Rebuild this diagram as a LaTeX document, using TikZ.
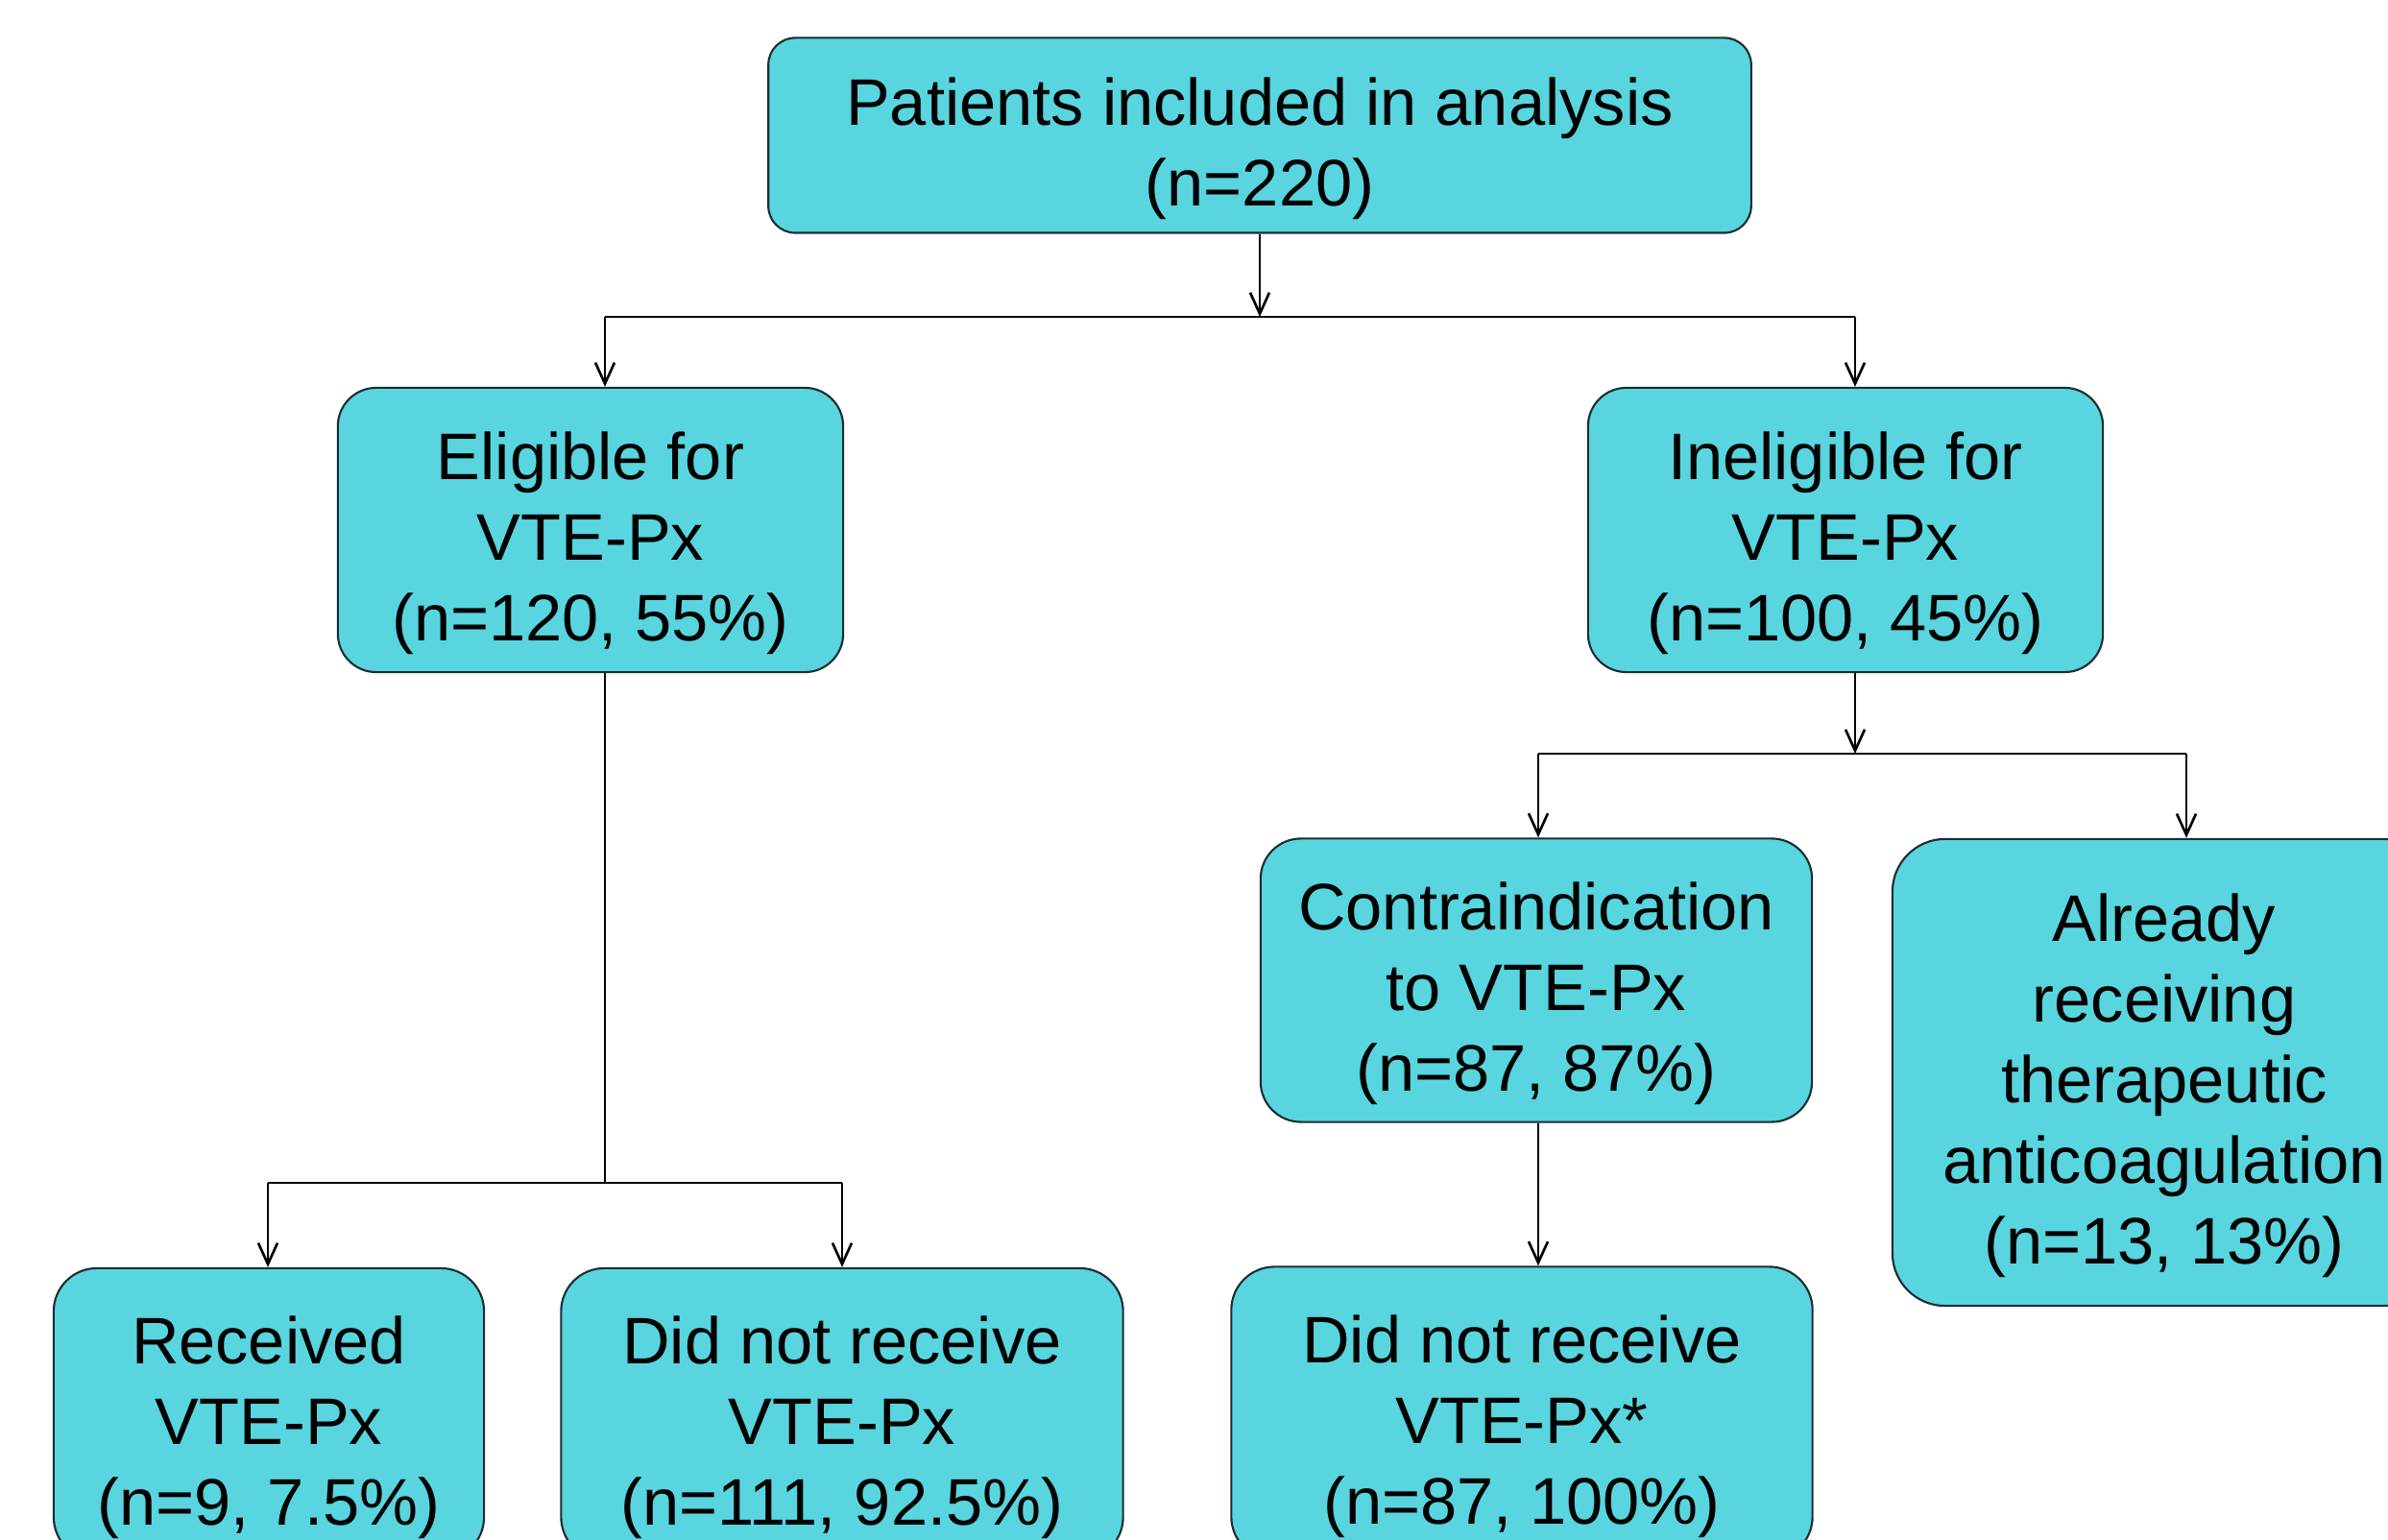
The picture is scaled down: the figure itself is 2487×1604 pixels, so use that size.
\documentclass[tikz,border=0pt]{standalone}
\usepackage{fontspec}
\setmainfont{Liberation Sans}
\usetikzlibrary{arrows.meta}
\definecolor{boxfill}{RGB}{88,213,222}
\definecolor{boxline}{RGB}{28,45,50}
\begin{document}
\begin{tikzpicture}[x=0.01cm,y=-0.01cm,
  box/.style={draw=boxline, line width=0.6pt, fill=boxfill, inner sep=0pt},
  boxtext/.style={align=center, inner sep=0pt, yshift=-0.14cm,
    font=\fontsize{19.5}{23.9}\selectfont, text=black},
  conn/.style={draw=black, line width=0.75pt},
  arr/.style={conn, -{Straight Barb[length=0.22cm,width=0.2cm,line width=0.75pt]}}
]
\useasboundingbox (0,0) rectangle (2487,1604);
\clip (0,0) rectangle (2487,1604);
\fill[white] (0,0) rectangle (2487,1604);

\node[box, rounded corners=0.28cm, minimum width=10.23cm, minimum height=2.03cm,
  label={[boxtext]center:{Patients included in analysis\\(n=220)}}] (top) at (1312,141) {};
\node[box, rounded corners=0.40cm, minimum width=5.26cm, minimum height=2.96cm,
  label={[boxtext]center:{Eligible for\\VTE-Px\\(n=120, 55\%)}}] (elig) at (615,552) {};
\node[box, rounded corners=0.40cm, minimum width=5.36cm, minimum height=2.96cm,
  label={[boxtext]center:{Ineligible for\\VTE-Px\\(n=100, 45\%)}}] (inel) at (1922,552) {};
\node[box, rounded corners=0.42cm, minimum width=5.74cm, minimum height=2.95cm,
  label={[boxtext]center:{Contraindication\\to VTE-Px\\(n=87, 87\%)}}] (contra) at (1600,1021) {};
\node[box, rounded corners=0.55cm, minimum width=5.66cm, minimum height=4.86cm,
  label={[boxtext]center:{Already\\receiving\\therapeutic\\anticoagulation\\(n=13, 13\%)}}] (already) at (2254,1117) {};
\node[box, rounded corners=0.45cm, minimum width=4.48cm, minimum height=3.04cm,
  label={[boxtext]center:{Received\\VTE-Px\\(n=9, 7.5\%)}}] (recv) at (280,1473) {};
\node[box, rounded corners=0.45cm, minimum width=5.85cm, minimum height=3.04cm,
  label={[boxtext]center:{Did not receive\\VTE-Px\\(n=111, 92.5\%)}}] (dnr) at (877,1473) {};
\node[box, rounded corners=0.45cm, minimum width=6.05cm, minimum height=3.05cm,
  label={[boxtext]center:{Did not receive\\VTE-Px*\\(n=87, 100\%)}}] (dnrb) at (1585,1472) {};

% junctions
\coordinate (j1) at (1312,330);
\coordinate (j1l) at (630,330);
\coordinate (j1r) at (1932,330);
\coordinate (j2) at (630,1232);
\coordinate (j2l) at (279,1232);
\coordinate (j2r) at (877,1232);
\coordinate (j3) at (1932,785);
\coordinate (j3l) at (1602,785);
\coordinate (j3r) at (2277,785);

\draw[arr] (top.south) -- (j1);
\draw[conn] (j1l) -- (j1r);
\draw[arr] (j1l) -- (j1l |- elig.north);
\draw[arr] (j1r) -- (j1r |- inel.north);

\draw[conn] (j2 |- elig.south) -- (j2);
\draw[conn] (j2l) -- (j2r);
\draw[arr] (j2l) -- (j2l |- recv.north);
\draw[arr] (j2r) -- (j2r |- dnr.north);

\draw[arr] (j3 |- inel.south) -- (j3);
\draw[conn] (j3l) -- (j3r);
\draw[arr] (j3l) -- (j3l |- contra.north);
\draw[arr] (j3r) -- (j3r |- already.north);

\draw[arr] (j3l |- contra.south) -- (j3l |- dnrb.north);
\end{tikzpicture}
\end{document}
